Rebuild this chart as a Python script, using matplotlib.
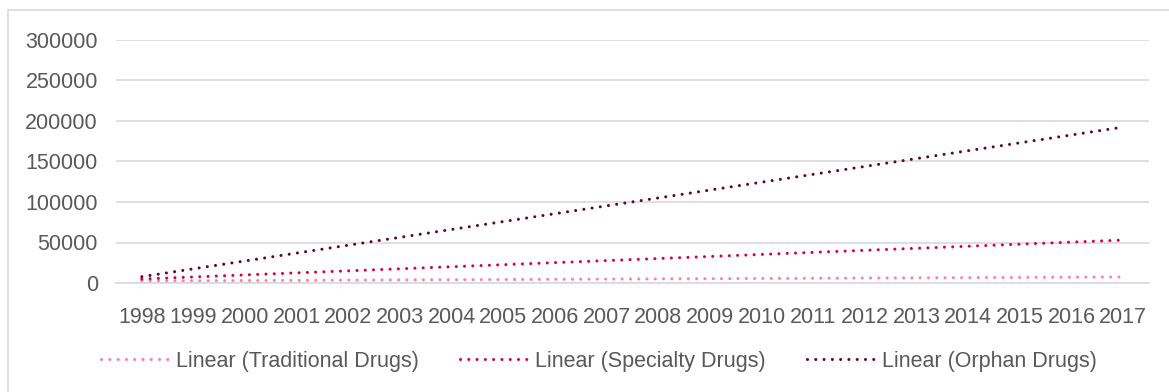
import numpy as np
import matplotlib
matplotlib.use('Agg')
import matplotlib.pyplot as plt
from matplotlib.patches import Rectangle

# 年份与各类药物的线性趋势（起点、终点）
years = [str(y) for y in range(1998, 2018)]
series_names = ['Linear (Traditional Drugs)', 'Linear (Specialty Drugs)', 'Linear (Orphan Drugs)']
trend_start = [2500, 4900, 7800]
trend_end = [7400, 53000, 192500]
colors = ['#FF7FA0', '#D6003F', '#5E0525']
yticks = [0, 50000, 100000, 150000, 200000, 250000, 300000]

plt.rcParams['font.family'] = ['Liberation Sans', 'DejaVu Sans']
txt = '#595959'

fig = plt.figure(figsize=(11.69, 3.92), dpi=100)
# 图表外框
fig.patches.append(Rectangle((8 / 1169, -0.1), 1.2, (392 - 10) / 392 + 0.1,
                             transform=fig.transFigure, fill=False,
                             edgecolor='#D9D9D9', linewidth=1.2))
# 标题（只露出下沿）
fig.text(25 / 1169, 1 + 3 / 392, 'Figure 3: Projected Annual Cost of Treatment per Patient by Drug Type',
         fontsize=11.5, fontweight='bold', color='black', va='baseline', ha='left')

ax = fig.add_axes([116 / 1169, (392 - 283) / 392, (1149 - 116) / 1169, (283 - 40) / 392])
x = np.arange(len(years))
for i in range(3):
    ax.plot([x[0], x[-1]], [trend_start[i], trend_end[i]], color=colors[i],
            linewidth=2.2, linestyle=(0, (0.01, 2.7)), dash_capstyle='round',
            label=series_names[i])

ax.set_xlim(-0.5, len(years) - 0.5)
ax.set_ylim(0, 300000)
ax.set_yticks(yticks)
ax.set_yticklabels([str(v) for v in yticks])
ax.set_xticks(x)
ax.set_xticklabels(years)
ax.grid(axis='y', color='#D9D9D9', linewidth=1.2)
ax.set_axisbelow(True)
for s in ['top', 'right', 'left']:
    ax.spines[s].set_visible(False)
ax.spines['bottom'].set_color('#D9D9D9')
ax.spines['bottom'].set_linewidth(1.2)
ax.tick_params(axis='both', length=0, labelsize=15.5, colors=txt)
ax.tick_params(axis='y', pad=13)
ax.tick_params(axis='x', pad=17.5)

leg = fig.legend(loc='center', bbox_to_anchor=(599 / 1169, (392 - 361) / 392), ncol=3,
                 frameon=False, fontsize=15.5, handlelength=3.2, columnspacing=1.9,
                 handletextpad=0.3)
for t in leg.get_texts():
    t.set_color(txt)

fig.savefig('out.png', dpi=100)
